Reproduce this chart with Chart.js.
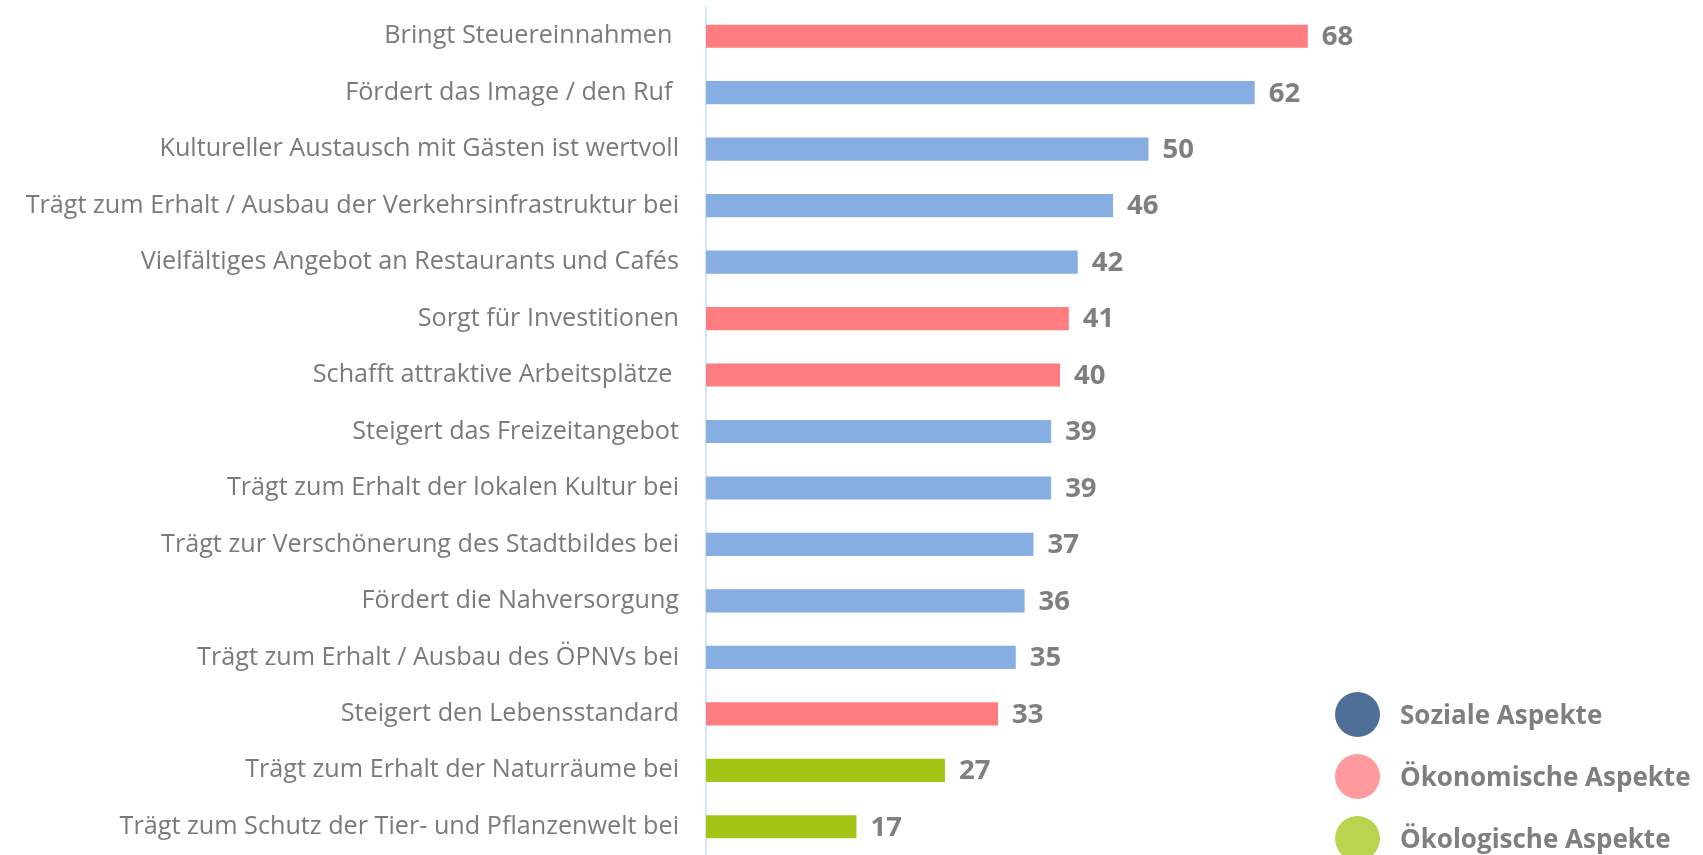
<!DOCTYPE html>
<html>
<head>
<meta charset="utf-8">
<script src="https://cdn.jsdelivr.net/npm/chart.js@4"></script>
<style>
  body { margin: 0; background: #fff; }
  #wrap { position: relative; width: 1703px; height: 855px; }
  #legende { position: absolute; left: 1335px; top: 683px; font-family: "Open Sans", sans-serif; font-weight: bold; font-size: 26px; color: #7f7f7f; }
  #legende div { height: 62px; display: flex; align-items: center; }
  #legende span.punkt { display: inline-block; width: 45px; height: 45px; border-radius: 50%; margin-right: 20px; }
</style>
</head>
<body>
<div id="wrap">
  <canvas id="myChart"></canvas>
  <div id="legende"></div>
</div>
<script>
const kategorien = [
  'Bringt Steuereinnahmen ',
  'Fördert das Image / den Ruf ',
  'Kultureller Austausch mit Gästen ist wertvoll',
  'Trägt zum Erhalt / Ausbau der Verkehrsinfrastruktur bei',
  'Vielfältiges Angebot an Restaurants und Cafés',
  'Sorgt für Investitionen',
  'Schafft attraktive Arbeitsplätze ',
  'Steigert das Freizeitangebot',
  'Trägt zum Erhalt der lokalen Kultur bei',
  'Trägt zur Verschönerung des Stadtbildes bei',
  'Fördert die Nahversorgung',
  'Trägt zum Erhalt / Ausbau des ÖPNVs bei',
  'Steigert den Lebensstandard',
  'Trägt zum Erhalt der Naturräume bei',
  'Trägt zum Schutz der Tier- und Pflanzenwelt bei'
];
const werte = [68, 62, 50, 46, 42, 41, 40, 39, 39, 37, 36, 35, 33, 27, 17];
// 0 = sozial, 1 = ökonomisch, 2 = ökologisch
const aspekt = [1, 0, 0, 0, 0, 1, 1, 0, 0, 0, 0, 0, 1, 2, 2];
const aspektNamen = ['Soziale Aspekte', 'Ökonomische Aspekte', 'Ökologische Aspekte'];
const balkenFarben = ['#86aee3', '#ff7c80', '#a3c516'];
const legendeFarben = ['#4f6f97', '#ff9b9e', '#b9d44f'];

// Legende
const leg = document.getElementById('legende');
aspektNamen.forEach(function(name, i) {
  const zeile = document.createElement('div');
  zeile.innerHTML = '<span class="punkt" style="background:' + legendeFarben[i] + '"></span>' + name;
  leg.appendChild(zeile);
});

// Werte rechts neben die Balken schreiben
const wertLabels = {
  id: 'wertLabels',
  afterDatasetsDraw(chart) {
    const ctx = chart.ctx;
    const meta = chart.getDatasetMeta(0);
    ctx.save();
    ctx.font = 'bold 27.5px "Open Sans", sans-serif';
    ctx.fillStyle = '#7f7f7f';
    ctx.textAlign = 'left';
    ctx.textBaseline = 'middle';
    meta.data.forEach(function(bar, i) {
      ctx.fillText(werte[i], bar.x + 14, bar.y + 1);
    });
    ctx.restore();
  }
};

const ctx = document.getElementById('myChart');
const myChart = new Chart(ctx, {
  type: 'bar',
  data: {
    labels: kategorien,
    datasets: [{
      data: werte,
      backgroundColor: aspekt.map(a => balkenFarben[a]),
      borderWidth: 0,
      categoryPercentage: 1,
      barPercentage: 0.41
    }]
  },
  options: {
    indexAxis: 'y',
    responsive: true,
    maintainAspectRatio: false,
    animation: false,
    layout: { padding: { top: 8, bottom: 0, left: 0, right: 289 } },
    scales: {
      x: {
        display: false,
        min: 0,
        max: 80
      },
      y: {
        grid: { display: false, drawTicks: false },
        border: { display: true, color: '#d3e6f7', width: 2 },
        ticks: {
          color: '#7a7a7a',
          padding: 27,
          font: { family: '"Open Sans", sans-serif', size: 25.2 }
        },
        afterFit: function(scale) {
          scale.width = 706;
          scale.paddingTop = 0;
          scale.paddingBottom = 0;
        }
      }
    },
    plugins: {
      legend: { display: false },
      tooltip: { enabled: false }
    }
  },
  plugins: [wertLabels]
});
</script>
</body>
</html>
